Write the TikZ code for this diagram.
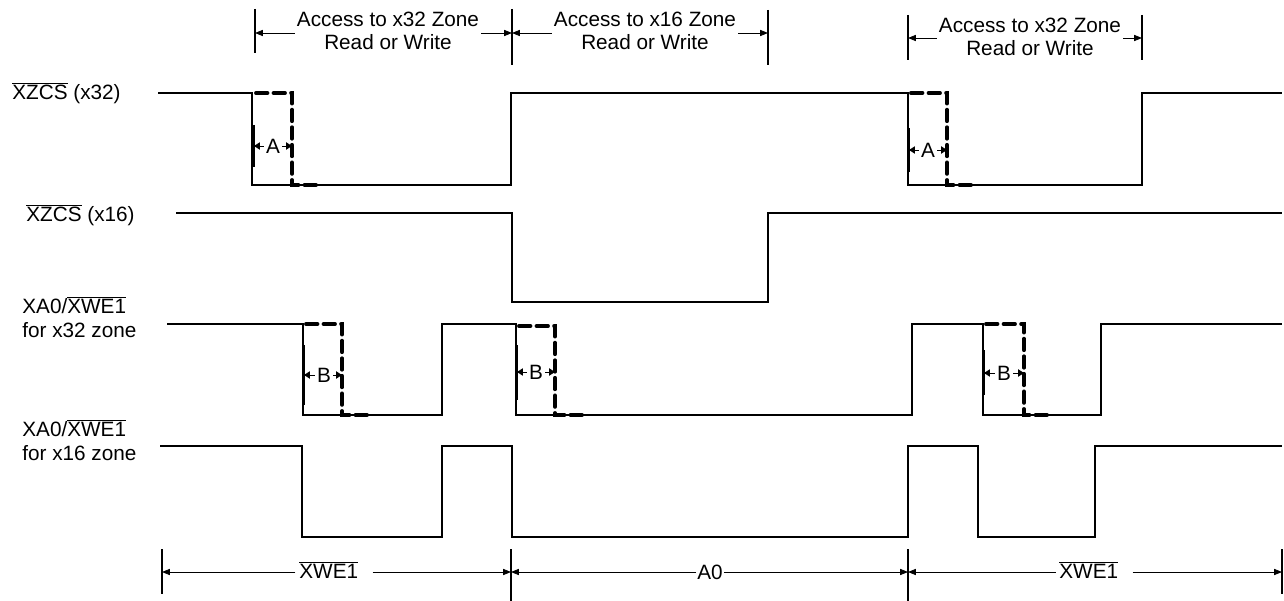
\documentclass[tikz,border=0pt]{standalone}
\usepackage{fontspec}
\setmainfont{Liberation Sans}
\usetikzlibrary{arrows.meta}
\newcommand{\sigbar}[1]{$\overline{\mbox{#1}}$}

\begin{document}
\begin{tikzpicture}[
    x=0.02cm, y=-0.02cm,
    font=\fontsize{11.8}{13}\selectfont,
    wave/.style={line width=1.1pt, line join=miter},
    guess/.style={line width=2.2pt, line cap=round, dash pattern=on 6.5pt off 3.5pt},
    dimtick/.style={line width=1.1pt},
    dimline/.style={line width=0.5pt, -{Triangle[length=4.5pt,width=3.5pt]}},
    gaparrow/.style={line width=0.5pt, -{Triangle[length=3.4pt,width=4.2pt]}},
    siglabel/.style={anchor=west, align=left, inner sep=0pt},
    zone/.style={align=center, inner sep=1pt}
]
\useasboundingbox (0,0) rectangle (1284,601);

% Signal names
\node[siglabel] (s1) at (12,93) {\sigbar{XZCS} (x32)};
\node[siglabel] (s2) at (26,215) {\sigbar{XZCS} (x16)};
\node[siglabel, font=\fontsize{11.8}{13.5}\selectfont] (s3) at (22,317) {XA0/\sigbar{XWE1}\\for x32 zone};
\node[siglabel, font=\fontsize{11.8}{13.5}\selectfont] (s4) at (22,440) {XA0/\sigbar{XWE1}\\for x16 zone};

% Zone access spans (top)
\node[zone] (z1) at (388,31) {Access to x32 Zone\\Read or Write};
\node[zone] (z2) at (645,31) {Access to x16 Zone\\Read or Write};
\node[zone] (z3) at (1030,37) {Access to x32 Zone\\Read or Write};
\draw[dimtick] (255,9) -- (255,53);
\draw[dimtick] (512,9) -- (512,65);
\draw[dimtick] (768,10) -- (768,65);
\draw[dimtick] (908,15) -- (908,60);
\draw[dimtick] (1142,15) -- (1142,60);
\coordinate (t1) at (255,33);
\coordinate (t2) at (512,33);
\coordinate (t3) at (768,33);
\coordinate (t4) at (908,38);
\coordinate (t5) at (1142,38);
\draw[dimline] (z1.west |- t1) -- (t1);
\draw[dimline] (z1.east |- t2) -- (t2);
\draw[dimline] (z2.west |- t2) -- (t2);
\draw[dimline] (z2.east |- t3) -- (t3);
\draw[dimline] (z3.west |- t4) -- (t4);
\draw[dimline] (z3.east |- t5) -- (t5);

% XZCS (x32)
\draw[wave] (158,93) -- (252,93) -- (252,185) -- (511,185) -- (511,93) -- (908,93) -- (908,185) -- (1142,185) -- (1142,93) -- (1282,93);
\draw[guess] (256,93) -- (292,93) -- (292,185) -- (320,185);
\draw[guess] (911,93) -- (947,93) -- (947,185) -- (975,185);

% XZCS (x16)
\draw[wave] (176,213) -- (512,213) -- (512,302) -- (768,302) -- (768,213) -- (1282,213);

% XA0/XWE1 for x32 zone
\draw[wave] (167,324) -- (303,324) -- (303,415) -- (442,415) -- (442,324) -- (516,324) -- (516,415) -- (912,415) -- (912,324) -- (983,324) -- (983,415) -- (1101,415) -- (1101,324) -- (1282,324);
\draw[guess] (306,324) -- (342,324) -- (342,415) -- (368,415);
\draw[guess] (519,326) -- (555,326) -- (555,415) -- (583,415);
\draw[guess] (986,324) -- (1024,324) -- (1024,415) -- (1051,415);

% XA0/XWE1 for x16 zone
\draw[wave] (160,446) -- (302,446) -- (302,537) -- (442,537) -- (442,446) -- (512,446) -- (512,537) -- (908,537) -- (908,446) -- (978,446) -- (978,537) -- (1095,537) -- (1095,446) -- (1282,446);

% Delay A
\draw[dimtick] (254,125) -- (254,167);
\node[inner sep=1pt] (a1) at (273,146) {A};
\coordinate (a1l) at (254,146);
\coordinate (a1r) at (292,146);
\draw[gaparrow] (a1.west) -- (a1l);
\draw[gaparrow] (a1.east) -- (a1r);

\draw[dimtick] (909,128) -- (909,172);
\node[inner sep=1pt] (a2) at (928,150) {A};
\coordinate (a2l) at (909,150);
\coordinate (a2r) at (947,150);
\draw[gaparrow] (a2.west) -- (a2l);
\draw[gaparrow] (a2.east) -- (a2r);

% Delay B
\draw[dimtick] (304,345) -- (304,405);
\node[inner sep=1pt] (b1) at (324,375) {B};
\coordinate (b1l) at (304,375);
\coordinate (b1r) at (342,375);
\draw[gaparrow] (b1.west) -- (b1l);
\draw[gaparrow] (b1.east) -- (b1r);

\draw[dimtick] (517,345) -- (517,400);
\node[inner sep=1pt] (b2) at (536,372) {B};
\coordinate (b2l) at (517,372);
\coordinate (b2r) at (555,372);
\draw[gaparrow] (b2.west) -- (b2l);
\draw[gaparrow] (b2.east) -- (b2r);

\draw[dimtick] (984,350) -- (984,395);
\node[inner sep=1pt] (b3) at (1004,373) {B};
\coordinate (b3l) at (984,373);
\coordinate (b3r) at (1024,373);
\draw[gaparrow] (b3.west) -- (b3l);
\draw[gaparrow] (b3.east) -- (b3r);

% Address/strobe spans (bottom)
\draw[dimtick] (162,549) -- (162,594);
\draw[dimtick] (511,549) -- (511,601);
\draw[dimtick] (908,549) -- (908,601);
\draw[dimtick] (1282,549) -- (1282,594);
\coordinate (e1) at (162,572);
\coordinate (e2) at (511,572);
\coordinate (e3) at (908,572);
\coordinate (e4) at (1282,572);
\node[inner sep=2pt] (d1) at (334,570) {\sigbar{XWE1}\kern6pt};
\node[inner sep=0.5pt] (d2) at (710,572) {A0};
\node[inner sep=2pt] (d3) at (1094,570) {\sigbar{XWE1}\kern6pt};
\draw[dimline] (d1.west |- e1) -- (e1);
\draw[dimline] (d1.east |- e2) -- (e2);
\draw[dimline] (d2.west |- e2) -- (e2);
\draw[dimline] (d2.east |- e3) -- (e3);
\draw[dimline] (d3.west |- e3) -- (e3);
\draw[dimline] (d3.east |- e4) -- (e4);

\end{tikzpicture}
\end{document}
